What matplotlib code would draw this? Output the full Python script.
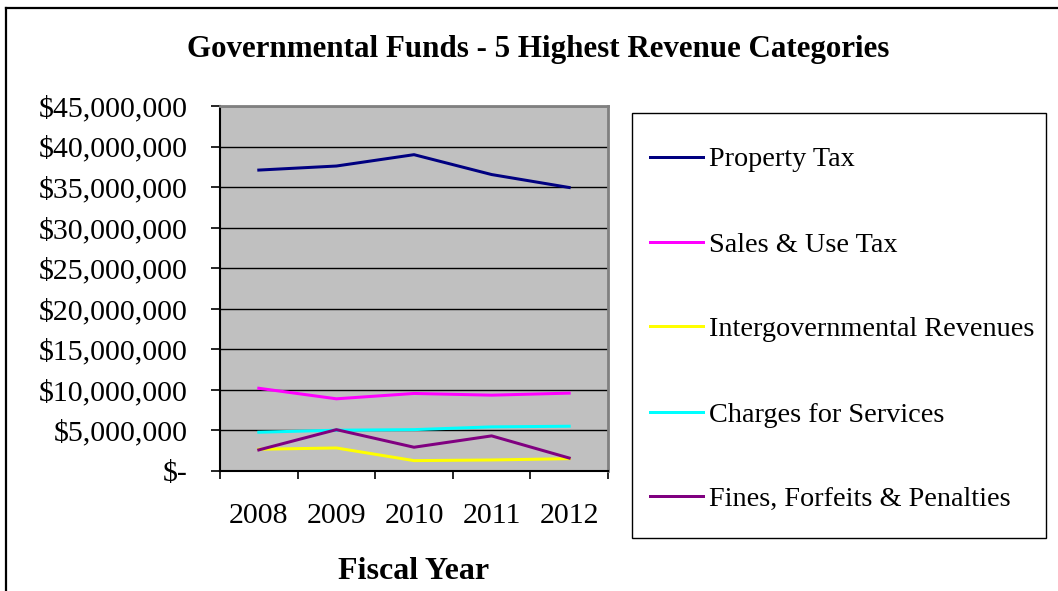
import matplotlib
matplotlib.use("Agg")
import matplotlib.pyplot as plt
from matplotlib.lines import Line2D
from matplotlib.patches import Rectangle
from matplotlib.ticker import FuncFormatter, FixedLocator

plt.rcParams["font.family"] = ["Liberation Serif", "DejaVu Serif"]

YEARS = ["2008", "2009", "2010", "2011", "2012"]
SERIES = [
    "Property Tax",
    "Sales & Use Tax",
    "Intergovernmental Revenues",
    "Charges for Services",
    "Fines, Forfeits & Penalties",
]
property_tax   = [37_100_000, 37_600_000, 39_000_000, 36_550_000, 34_950_000]
sales_use_tax  = [10_200_000,  8_900_000,  9_560_000,  9_350_000,  9_600_000]
intergov_rev   = [ 2_680_000,  2_840_000,  1_280_000,  1_360_000,  1_520_000]
charges_svc    = [ 4_780_000,  5_030_000,  5_100_000,  5_440_000,  5_520_000]
fines_forfeits = [ 2_600_000,  5_100_000,  2_930_000,  4_330_000,  1_600_000]

COLORS = ["#000080", "#FF00FF", "#FFFF00", "#00FFFF", "#800080"]
VALUES = [property_tax, sales_use_tax, intergov_rev, charges_svc, fines_forfeits]
Y_TICKS = list(range(0, 45_000_001, 5_000_000))


def dollars(v, _pos):
    return "$-" if v == 0 else f"${v:,.0f}"


W, H = 1058, 591
PX = 72 / 100          # one pixel in points at dpi=100
FS = 21.5              # axis text
FS_LEG = 20.3          # legend text


def fx(px):
    return px / W


def fy(py):
    return 1 - py / H


fig = plt.figure(figsize=(W / 100, H / 100), dpi=100)

# chart-area border (only top and left edges fall inside the canvas)
fig.add_artist(Line2D([fx(6), fx(6)], [0, fy(8)], color="black", lw=1.6))
fig.add_artist(Line2D([fx(6), 1], [fy(8), fy(8)], color="black", lw=1.6))

ax = fig.add_axes([fx(220), fy(471), fx(388), 365 / H])
ax.set_facecolor("#C0C0C0")

x = list(range(len(YEARS)))
for vals, col in zip(VALUES, COLORS):
    ax.plot(x, vals, color=col, lw=3 * PX)

ax.set_xlim(-0.5, len(YEARS) - 0.5)
ax.set_ylim(0, 45_000_000)

ax.yaxis.set_major_locator(FixedLocator(Y_TICKS))
ax.yaxis.set_major_formatter(FuncFormatter(dollars))
ax.grid(True, axis="y", color="black", lw=1.0)
ax.set_axisbelow(True)

# category boundaries get the tick marks, labels sit at category centres
ax.xaxis.set_major_locator(FixedLocator([i - 0.5 for i in range(len(YEARS) + 1)]))
ax.xaxis.set_major_formatter(FuncFormatter(lambda v, p: ""))
ax.xaxis.set_minor_locator(FixedLocator(x))
ax.set_xticklabels(YEARS, minor=True)
ax.tick_params(axis="x", which="major", direction="out", length=8 * PX, width=1.2)
ax.tick_params(axis="x", which="minor", length=0, pad=32 * PX, labelsize=FS)
ax.tick_params(axis="y", direction="out", length=9 * PX, width=1.2,
               pad=23 * PX, labelsize=FS)

for side in ("left", "bottom"):
    ax.spines[side].set_color("black")
    ax.spines[side].set_linewidth(1.5)
for side in ("top", "right"):
    ax.spines[side].set_color("#808080")
    ax.spines[side].set_linewidth(2)

ax.set_xlabel("Fiscal Year", fontsize=23, fontweight="bold", labelpad=20)

fig.text(fx(538), fy(49), "Governmental Funds - 5 Highest Revenue Categories",
         ha="center", va="center", fontsize=22.3, fontweight="bold")

# legend box on the right, one row per series
fig.add_artist(Rectangle((fx(632), fy(538)), fx(414), 425 / H, facecolor="white",
                         edgecolor="black", lw=1.0))
row_y = [157, 242, 326, 412, 496]
for name, col, ry in zip(SERIES, COLORS, row_y):
    fig.add_artist(Line2D([fx(650), fx(703)], [fy(ry), fy(ry)], color=col, lw=3 * PX))
    fig.text(fx(709), fy(ry), name, ha="left", va="center_baseline", fontsize=FS_LEG)

fig.savefig("out.png", dpi=100)
